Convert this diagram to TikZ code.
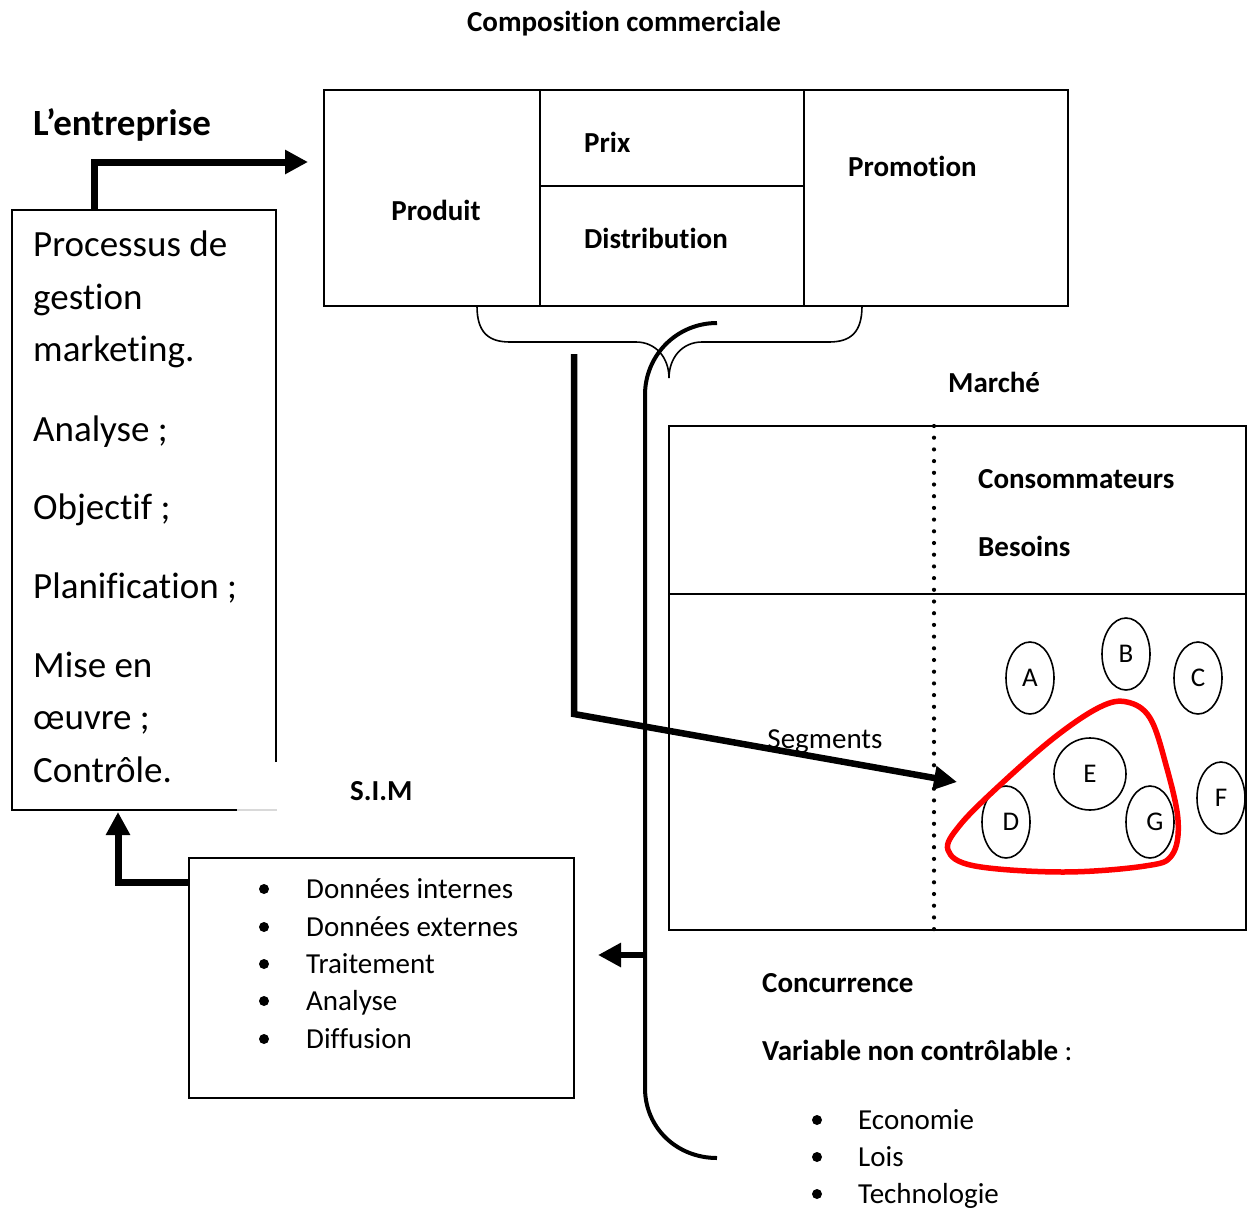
\documentclass[tikz,border=0pt]{standalone}
\usepackage{fontspec}
\setmainfont{Carlito}[Ligatures=NoCommon]
\usetikzlibrary{arrows.meta,shapes.geometric}
\begin{document}
\begin{tikzpicture}[x=1pt,y=-1pt,
  base/.style={inner sep=0pt,text height=18.4pt,text depth=0pt},
  lbl/.style={base,anchor=west,font=\fontsize{29}{35}\selectfont\bfseries},
  txt/.style={base,anchor=west,font=\fontsize{29}{35}\selectfont},
  bigtxt/.style={base,text height=22.4pt,anchor=west,font=\fontsize{37}{44}\selectfont},
  frame/.style={draw,line width=1.6pt},
  heavy/.style={line width=7pt,line join=miter,-{Triangle[length=23pt,width=23pt]}},
  oval/.style={draw,line width=1.6pt,ellipse,minimum width=48pt,minimum height=72pt,inner sep=0pt,font=\fontsize{27}{32}\selectfont},
  dot/.style={circle,fill,inner sep=0pt,minimum size=10pt}
]
\useasboundingbox (0,0) rectangle (1254,1208);

% ---- titles
\node[lbl,anchor=center] (title) at (624,22) {Composition commerciale};
\node[bigtxt,font=\fontsize{37}{44}\selectfont\bfseries] (ent) at (33,124) {L’entreprise};

% ---- marketing mix
\node[frame,minimum width=744pt,minimum height=216pt,inner sep=0pt] (mix) at (696,198) {};
\coordinate (c1t) at (540,90); \coordinate (c1b) at (540,306);
\coordinate (c2t) at (804,90); \coordinate (c2b) at (804,306);
\coordinate (mid1) at (540,186); \coordinate (mid2) at (804,186);
\draw[line width=1.6pt] (c1t) -- (c1b) (c2t) -- (c2b) (mid1) -- (mid2);
\node[lbl,anchor=center] (produit) at (436,211) {Produit};
\node[lbl] (prix) at (584,143) {Prix};
\node[lbl] (distrib) at (584,239) {Distribution};
\node[lbl] (promo) at (848,167) {Promotion};

% brace under the mix
\draw[line width=1.6pt] (477,306) .. controls (477,332) and (488,342) .. (510,342)
  -- (636,342) .. controls (656,342) and (669,358) .. (669,378)
  .. controls (669,358) and (682,342) .. (702,342)
  -- (829,342) .. controls (851,342) and (862,332) .. (862,306);

% ---- process box (open corner at bottom right)
\coordinate (pTL) at (12,210);
\coordinate (pTR) at (276,210);
\coordinate (pBL) at (12,810);
\draw[line width=1.6pt] (276,762) -- (pTR) -- (pTL) -- (pBL) -- (237,810);
\draw[line width=1.2pt,black!15] (237,810) -- (277,810);
\node[bigtxt] (p1) at (33,245) {Processus de};
\node[bigtxt] (p2) at (33,298) {gestion};
\node[bigtxt] (p3) at (33,350) {marketing.};
\node[bigtxt] (p4) at (33,430) {Analyse ;};
\node[bigtxt] (p5) at (33,508) {Objectif ;};
\node[bigtxt] (p6) at (33,587) {Planification ;};
\node[bigtxt] (p7) at (33,666) {Mise en};
\node[bigtxt] (p8) at (33,718) {œuvre ;};
\node[bigtxt] (p9) at (33,771) {Contrôle.};

\coordinate (procTop) at (94,210);
\coordinate (mixIn) at (308,162);
\draw[heavy] (procTop) |- (mixIn);

% ---- S.I.M
\node[lbl] (simlbl) at (350,791) {S.I.M};
\node[frame,minimum width=385pt,minimum height=240pt,inner sep=0pt] (sim) at (381.5,978) {};
\foreach \y/\t [count=\i] in {889/Données internes,927/Données externes,964/Traitement,1001/Analyse,1039/Diffusion}{
  \node[dot] (sb\i) at (264,\y) {};
  \node[txt] (si\i) at (306,\y) {\t};
}
\coordinate (simOut) at (189,882);
\coordinate (procIn) at (118,812);
\draw[heavy] (simOut) -| (procIn);

% ---- big bracket on the right of the mix
\coordinate (brTop) at (717,323);
\coordinate (brBot) at (717,1158);
\draw[line width=4pt] (brTop) .. controls (677,323) and (645,355) .. (645,395)
  -- (645,1088) .. controls (645,1128) and (677,1158) .. (brBot);
\coordinate (brOut) at (645,955);
\coordinate (simIn) at (598,955);
\draw[line width=6pt,-{Triangle[length=23pt,width=23pt]}] (brOut) -- (simIn);

% ---- market
\node[lbl] (marche) at (948,383) {Marché};
\node[frame,minimum width=577pt,minimum height=504pt,inner sep=0pt] (mkt) at (957.5,678) {};
\coordinate (divL) at (669,594); \coordinate (divR) at (1246,594);
\draw[line width=1.6pt] (divL) -- (divR);
\coordinate (dotT) at (934,426); \coordinate (dotB) at (934,930);
\draw[line width=4.2pt,line cap=round,dash pattern=on 0pt off 11.7pt] (dotT) -- (dotB);
\node[lbl] (conso) at (978,479) {Consommateurs};
\node[lbl] (besoins) at (978,547) {Besoins};

\node[oval] (A) at (1030,678) {A};
\node[oval] (B) at (1126,654) {B};
\node[oval] (C) at (1198,678) {C};
\node[oval,minimum width=72pt] (E) at (1090,774) {E};
\node[oval] (D) at (1006,822) {\hspace*{10pt}D};
\node[oval] (G) at (1150,822) {\hspace*{10pt}G};
\node[oval] (F) at (1221,798) {F};

% target segment
\draw[red,line width=5.5pt,line join=round] plot[smooth cycle,tension=0.6] coordinates
  {(1127,702) (1150,718) (1166,765) (1178,820) (1172,855) (1145,866) (1063,872)
   (975,866) (948,850) (960,825) (1000,785) (1055,737) (1100,707)};

% arrow from the mix towards the segments
\coordinate (mixOut) at (574,354);
\coordinate (bend) at (574,714);
\coordinate (segIn) at (957,782);
\draw[line width=6.5pt,line join=miter,-{Triangle[length=23pt,width=23pt]}] (mixOut) -- (bend) -- (segIn);
\node[txt,anchor=center] (seg) at (825,739) {Segments};

% ---- competition and uncontrollable variables
\node[lbl] (conc) at (762,983) {Concurrence};
\node[txt] (var) at (762,1051) {{\bfseries Variable non contrôlable} :};
\foreach \y/\t [count=\i] in {1120/Economie,1157/Lois,1194/Technologie}{
  \node[dot] (vb\i) at (817,\y) {};
  \node[txt] (vi\i) at (858,\y) {\t};
}
\end{tikzpicture}
\end{document}
